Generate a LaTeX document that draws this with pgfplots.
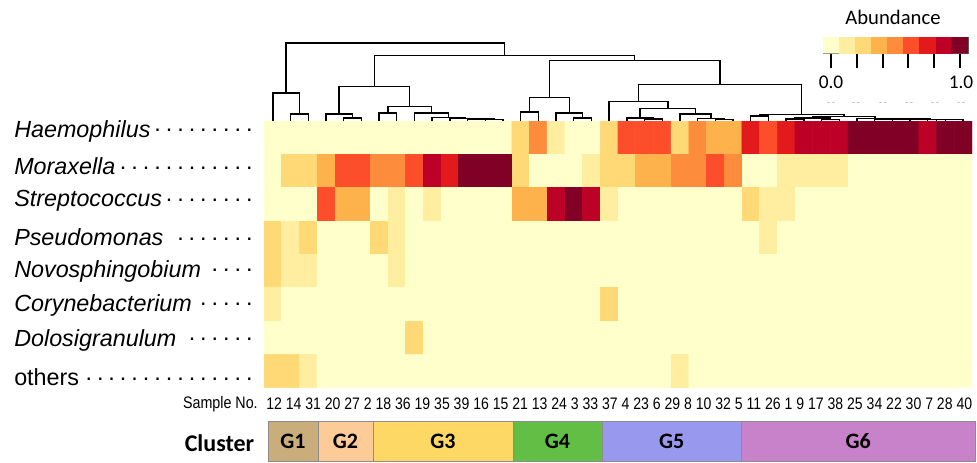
\documentclass[border=0pt]{standalone}
\usepackage{pgfplots}
\pgfplotsset{compat=1.18}
\usepackage{graphicx}
\usepackage{fontspec}
\setmainfont{Liberation Sans}
\newfontfamily\carlito{Carlito}
\definecolor{g1}{RGB}{201,174,124}
\definecolor{g2}{RGB}{253,203,152}
\definecolor{g3}{RGB}{253,216,101}
\definecolor{g4}{RGB}{99,190,69}
\definecolor{g5}{RGB}{152,152,238}
\definecolor{g6}{RGB}{200,130,202}
\pgfplotsset{colormap={ylorrd}{rgb255=(255,255,204) rgb255=(255,237,160) rgb255=(254,217,118) rgb255=(254,178,76) rgb255=(253,141,60) rgb255=(252,78,42) rgb255=(227,26,28) rgb255=(189,0,38) rgb255=(128,0,38)}}
\newcommand\rl[1]{\makebox[183pt][l]{#1\leaders\hbox to 8.6pt{\hss\raisebox{0.22em}{.}\hss}\hfill}}
\begin{document}
\begin{tikzpicture}
\begin{scope}[x=0.75pt,y=-0.75pt]
\path[use as bounding box] (0,0) rectangle (977,462);
\end{scope}
% heatmap
\begin{axis}[at={(198pt,-290.775pt)}, anchor=south west, scale only axis,
  width=531pt, height=200pt, xmin=-0.5, xmax=39.5, ymin=-0.5, ymax=7.5,
  y dir=reverse, hide axis, colormap name=ylorrd, point meta min=0, point meta max=8]
\addplot[matrix plot*, mesh/cols=40, point meta=explicit] table[x=x, y=y, meta=c, row sep=\\] {
x y c\\
0 0 0\\1 0 0\\2 0 0\\3 0 0\\4 0 0\\5 0 0\\6 0 0\\7 0 0\\8 0 0\\9 0 0\\10 0 0\\11 0 0\\12 0 0\\13 0 0\\14 0 2\\15 0 4\\16 0 1\\17 0 0\\18 0 0\\19 0 2\\20 0 5\\21 0 5\\22 0 5\\23 0 2\\24 0 4\\25 0 3\\26 0 3\\27 0 6\\28 0 5\\29 0 6\\30 0 7\\31 0 7\\32 0 7\\33 0 8\\34 0 8\\35 0 8\\36 0 8\\37 0 7\\38 0 8\\39 0 8\\
0 1 0\\1 1 2\\2 1 2\\3 1 3\\4 1 5\\5 1 5\\6 1 4\\7 1 4\\8 1 5\\9 1 7\\10 1 6\\11 1 8\\12 1 8\\13 1 8\\14 1 2\\15 1 0\\16 1 0\\17 1 0\\18 1 1\\19 1 2\\20 1 2\\21 1 3\\22 1 3\\23 1 4\\24 1 4\\25 1 5\\26 1 4\\27 1 0\\28 1 0\\29 1 1\\30 1 1\\31 1 1\\32 1 1\\33 1 0\\34 1 0\\35 1 0\\36 1 0\\37 1 0\\38 1 0\\39 1 0\\
0 2 0\\1 2 0\\2 2 0\\3 2 5\\4 2 3\\5 2 3\\6 2 0\\7 2 1\\8 2 0\\9 2 1\\10 2 0\\11 2 0\\12 2 0\\13 2 0\\14 2 3\\15 2 3\\16 2 7\\17 2 8\\18 2 7\\19 2 1\\20 2 0\\21 2 0\\22 2 0\\23 2 0\\24 2 0\\25 2 0\\26 2 0\\27 2 2\\28 2 1\\29 2 1\\30 2 0\\31 2 0\\32 2 0\\33 2 0\\34 2 0\\35 2 0\\36 2 0\\37 2 0\\38 2 0\\39 2 0\\
0 3 2\\1 3 1\\2 3 2\\3 3 0\\4 3 0\\5 3 0\\6 3 2\\7 3 1\\8 3 0\\9 3 0\\10 3 0\\11 3 0\\12 3 0\\13 3 0\\14 3 0\\15 3 0\\16 3 0\\17 3 0\\18 3 0\\19 3 0\\20 3 0\\21 3 0\\22 3 0\\23 3 0\\24 3 0\\25 3 0\\26 3 0\\27 3 0\\28 3 1\\29 3 0\\30 3 0\\31 3 0\\32 3 0\\33 3 0\\34 3 0\\35 3 0\\36 3 0\\37 3 0\\38 3 0\\39 3 0\\
0 4 2\\1 4 1\\2 4 1\\3 4 0\\4 4 0\\5 4 0\\6 4 0\\7 4 1\\8 4 0\\9 4 0\\10 4 0\\11 4 0\\12 4 0\\13 4 0\\14 4 0\\15 4 0\\16 4 0\\17 4 0\\18 4 0\\19 4 0\\20 4 0\\21 4 0\\22 4 0\\23 4 0\\24 4 0\\25 4 0\\26 4 0\\27 4 0\\28 4 0\\29 4 0\\30 4 0\\31 4 0\\32 4 0\\33 4 0\\34 4 0\\35 4 0\\36 4 0\\37 4 0\\38 4 0\\39 4 0\\
0 5 1\\1 5 0\\2 5 0\\3 5 0\\4 5 0\\5 5 0\\6 5 0\\7 5 0\\8 5 0\\9 5 0\\10 5 0\\11 5 0\\12 5 0\\13 5 0\\14 5 0\\15 5 0\\16 5 0\\17 5 0\\18 5 0\\19 5 2\\20 5 0\\21 5 0\\22 5 0\\23 5 0\\24 5 0\\25 5 0\\26 5 0\\27 5 0\\28 5 0\\29 5 0\\30 5 0\\31 5 0\\32 5 0\\33 5 0\\34 5 0\\35 5 0\\36 5 0\\37 5 0\\38 5 0\\39 5 0\\
0 6 0\\1 6 0\\2 6 0\\3 6 0\\4 6 0\\5 6 0\\6 6 0\\7 6 0\\8 6 2\\9 6 0\\10 6 0\\11 6 0\\12 6 0\\13 6 0\\14 6 0\\15 6 0\\16 6 0\\17 6 0\\18 6 0\\19 6 0\\20 6 0\\21 6 0\\22 6 0\\23 6 0\\24 6 0\\25 6 0\\26 6 0\\27 6 0\\28 6 0\\29 6 0\\30 6 0\\31 6 0\\32 6 0\\33 6 0\\34 6 0\\35 6 0\\36 6 0\\37 6 0\\38 6 0\\39 6 0\\
0 7 2\\1 7 2\\2 7 1\\3 7 0\\4 7 0\\5 7 0\\6 7 0\\7 7 0\\8 7 0\\9 7 0\\10 7 0\\11 7 0\\12 7 0\\13 7 0\\14 7 0\\15 7 0\\16 7 0\\17 7 0\\18 7 0\\19 7 0\\20 7 0\\21 7 0\\22 7 0\\23 7 1\\24 7 0\\25 7 0\\26 7 0\\27 7 0\\28 7 0\\29 7 0\\30 7 0\\31 7 0\\32 7 0\\33 7 0\\34 7 0\\35 7 0\\36 7 0\\37 7 0\\38 7 0\\39 7 0\\
};
\end{axis}
% dendrogram
\begin{axis}[at={(198pt,-90.75pt)}, anchor=south west, scale only axis,
  width=531pt, height=60.75pt, xmin=0, xmax=40, ymin=40, ymax=121,
  y dir=reverse, hide axis, clip=false]
\addplot[black, line width=1.1pt, unbounded coords=jump, mark=none] table[x=x, y=y, row sep=\\] {
x y\\
1.5 120.5\\1.5 114\\2.5 114\\2.5 120.5\\nan nan\\
0.5 120.5\\0.5 93\\2.0 93\\2.0 114\\nan nan\\
4.5 120.5\\4.5 118\\5.5 118\\5.5 120.5\\nan nan\\
3.5 120.5\\3.5 114\\5.0 114\\5.0 118\\nan nan\\
6.5 120.5\\6.5 113\\7.5 113\\7.5 120.5\\nan nan\\
12.5 120.5\\12.5 119.5\\13.5 119.5\\13.5 120.5\\nan nan\\
11.5 120.5\\11.5 119\\13.0 119\\13.0 119.5\\nan nan\\
10.5 120.5\\10.5 118.5\\12.25 118.5\\12.25 119\\nan nan\\
9.5 120.5\\9.5 117.5\\11.375 117.5\\11.375 118.5\\nan nan\\
8.5 120.5\\8.5 113\\10.4375 113\\10.4375 117.5\\nan nan\\
7.0 113\\7.0 106.3\\9.46875 106.3\\9.46875 113\\nan nan\\
4.25 114\\4.25 86.3\\8.234 86.3\\8.234 106.3\\nan nan\\
14.5 120.5\\14.5 112\\15.5 112\\15.5 120.5\\nan nan\\
17.5 120.5\\17.5 118\\18.5 118\\18.5 120.5\\nan nan\\
16.5 120.5\\16.5 113\\18.0 113\\18.0 118\\nan nan\\
15.0 112\\15.0 97.3\\17.25 97.3\\17.25 113\\nan nan\\
21.5 120.5\\21.5 119\\22.5 119\\22.5 120.5\\nan nan\\
20.5 120.5\\20.5 118\\22.0 118\\22.0 119\\nan nan\\
25.5 120.5\\25.5 119.5\\26.5 119.5\\26.5 120.5\\nan nan\\
24.5 120.5\\24.5 118.5\\26.0 118.5\\26.0 119.5\\nan nan\\
23.5 120.5\\23.5 114\\25.25 114\\25.25 118.5\\nan nan\\
21.25 118\\21.25 108.7\\24.375 108.7\\24.375 114\\nan nan\\
19.5 120.5\\19.5 101.3\\22.8125 101.3\\22.8125 108.7\\nan nan\\
27.5 120.5\\27.5 116\\28.5 116\\28.5 120.5\\nan nan\\
29.5 120.5\\29.5 119\\30.5 119\\30.5 120.5\\nan nan\\
31.5 120.5\\31.5 119.3\\32.5 119.3\\32.5 120.5\\nan nan\\
30.0 119\\30.0 118\\32.0 118\\32.0 119.3\\nan nan\\
37.5 120.5\\37.5 119.7\\38.5 119.7\\38.5 120.5\\nan nan\\
38.0 119.7\\38.0 119.5\\39.5 119.5\\39.5 120.5\\nan nan\\
36.5 120.5\\36.5 119.3\\38.75 119.3\\38.75 119.5\\nan nan\\
35.5 120.5\\35.5 119.1\\37.625 119.1\\37.625 119.3\\nan nan\\
34.5 120.5\\34.5 118.9\\36.5625 118.9\\36.5625 119.1\\nan nan\\
33.5 120.5\\33.5 118.6\\35.531 118.6\\35.531 118.9\\nan nan\\
31.0 118\\31.0 116.5\\34.516 116.5\\34.516 118.6\\nan nan\\
28.0 116\\28.0 114.5\\32.758 114.5\\32.758 116.5\\nan nan\\
21.156 101.3\\21.156 84.7\\30.379 84.7\\30.379 114.5\\nan nan\\
16.125 97.3\\16.125 60.5\\25.768 60.5\\25.768 84.7\\nan nan\\
6.242 86.3\\6.242 55.7\\20.946 55.7\\20.946 60.5\\nan nan\\
1.25 93\\1.25 43\\13.594 43\\13.594 55.7\\
};
\end{axis}
% colour bar
\begin{axis}[at={(617.25pt,-39.75pt)}, anchor=south west, scale only axis,
  width=108.75pt, height=11.625pt, xmin=-0.5, xmax=8.5, ymin=-0.5, ymax=1.5,
  colormap name=ylorrd, point meta min=0, point meta max=8,
  axis line style={draw=black!65, line width=0.7pt},
  ytick=\empty, xtick={0,1.6,3.2,4.8,6.4,8}, xticklabels={},
  xtick pos=left, tick align=outside, major tick length=11pt,
  xtick style={black, line width=1.5pt}]
\addplot[matrix plot*, mesh/cols=9, point meta=explicit] table[x=x, y=y, meta=c, row sep=\\] {
x y c\\
0 0 0\\1 0 1\\2 0 2\\3 0 3\\4 0 4\\5 0 5\\6 0 6\\7 0 7\\8 0 8\\
0 1 0\\1 1 1\\2 1 2\\3 1 3\\4 1 4\\5 1 5\\6 1 6\\7 1 7\\8 1 8\\
};
\end{axis}
\begin{scope}[x=0.75pt,y=-0.75pt]
% row labels
\begin{scope}[every node/.style={anchor=west, inner sep=0pt, font=\fontsize{17.5}{20}\selectfont}]
\node at (14,131) {\rl{\textit{Haemophilus}}};
\node at (14,166) {\rl{\textit{Moraxella}}};
\node at (14,201) {\rl{\textit{Streptococcus}}};
\node at (14,237) {\rl{\textit{Pseudomonas}}};
\node at (14,271) {\rl{\textit{Novosphingobium}}};
\node at (14,305) {\rl{\textit{Corynebacterium}}};
\node at (14,340) {\rl{\textit{Dolosigranulum}}};
\node at (14,377) {\rl{others}};
\end{scope}
% sample labels
\node[anchor=east, inner sep=0pt] at (258,404) {\resizebox{56pt}{\height}{\fontsize{12.5}{14}\selectfont Sample No.}};
\node[anchor=west, inner sep=0pt] at (266,404) {\resizebox{529.5pt}{\height}{\fontsize{12.5}{14}\selectfont 12 14 31 20 27 2 18 36 19 35 39 16 15 21 13 24 3 33 37 4 23 6 29 8 10 32 5 11 26 1 9 17 38 25 34 22 30 7 28 40}};
% clusters
\begin{scope}[draw=black!45, line width=0.5pt]
\draw[fill=g1] (268,421) rectangle (318,461.5);
\draw[fill=g2] (318,421) rectangle (373,461.5);
\draw[fill=g3] (373,421) rectangle (513,461.5);
\draw[fill=g4] (513,421) rectangle (602,461.5);
\draw[fill=g5] (602,421) rectangle (741.5,461.5);
\draw[fill=g6] (741.5,421) rectangle (975,461.5);
\end{scope}
\begin{scope}[every node/.style={inner sep=0pt, font=\carlito\bfseries\fontsize{16.5}{19}\selectfont}]
\node at (293,441) {G1};
\node at (345.5,441) {G2};
\node at (443,441) {G3};
\node at (557.5,441) {G4};
\node at (671.75,441) {G5};
\node at (858.25,441) {G6};
\node[font=\carlito\bfseries\fontsize{18}{20}\selectfont] at (219.5,443) {Cluster};
\end{scope}
% colour bar texts
\node[inner sep=0pt, font=\carlito\fontsize{15.5}{18}\selectfont] at (893,17) {Abundance};
\node[inner sep=0pt, font=\carlito\fontsize{14.5}{17}\selectfont] at (831,82) {0.0};
\node[inner sep=0pt, font=\carlito\fontsize{14.5}{17}\selectfont] at (961,82) {1.0};
\foreach \xx in {831,856,883,909,935,961}
  \node[inner sep=0pt, text=black!35, font=\fontsize{7}{7}\selectfont] at (\xx,104) {-\,-};
\end{scope}
\end{tikzpicture}
\end{document}
